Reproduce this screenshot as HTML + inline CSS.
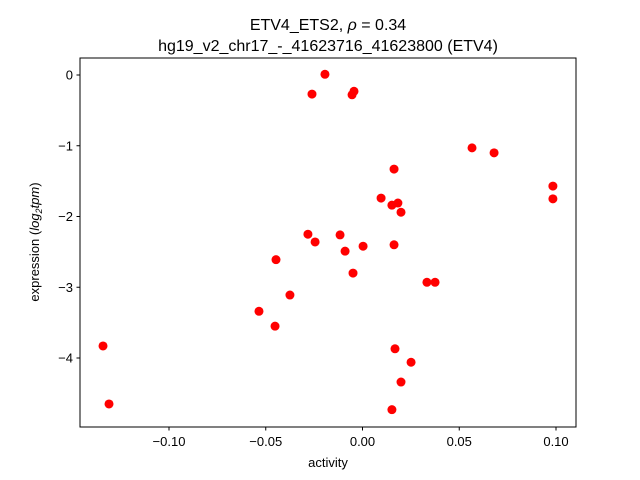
<!DOCTYPE html>
<html><head><meta charset="utf-8"><style>
html,body{margin:0;padding:0;background:#fff;}
svg{display:block;font-family:"Liberation Sans","DejaVu Sans",sans-serif;}
</style></head><body>
<svg id="chart" width="640" height="480">
<rect x="0" y="0" width="640" height="480" fill="#fff"/>
<text x="328" y="30" font-size="16" text-anchor="middle">ETV4_ETS2, <tspan font-style="italic">ρ</tspan> = 0.34</text>
<text x="328" y="51" font-size="16" text-anchor="middle">hg19_v2_chr17_-_41623716_41623800 (ETV4)</text>
<g id="points"></g>
<g id="axes"></g>
<rect x="80" y="58" width="496" height="369" fill="none" stroke="#000" stroke-width="1"/>
<text x="328" y="467" font-size="13" text-anchor="middle">activity</text>
<text transform="translate(39,242) rotate(-90)" font-size="13" text-anchor="middle">expression (<tspan font-style="italic">log</tspan><tspan font-style="italic" font-size="9" dy="3">2</tspan><tspan font-style="italic" dy="-3">tpm</tspan>)</text>
</svg>
<script>
const activity = [-0.1341,-0.131,-0.0194,-0.0261,-0.0054,-0.0044,0.0566,0.068,0.0984,0.0984,0.0163,0.0096,0.0152,0.0183,0.0199,-0.0282,-0.0116,-0.0245,-0.009,0.0003,0.0163,-0.0447,-0.0049,0.0333,0.0375,-0.0375,-0.0535,-0.0452,0.0168,0.0251,0.0199,0.0152];
const expression = [-3.83,-4.65,0.01,-0.27,-0.28,-0.23,-1.03,-1.10,-1.57,-1.75,-1.33,-1.74,-1.84,-1.81,-1.94,-2.25,-2.26,-2.36,-2.49,-2.42,-2.40,-2.61,-2.80,-2.93,-2.93,-3.11,-3.34,-3.55,-3.87,-4.06,-4.34,-4.73];
const xTicks = [-0.10,-0.05,0.00,0.05,0.10];
const xTickLabels = ["\u22120.10","\u22120.05","0.00","0.05","0.10"];
const yTicks = [0,-1,-2,-3,-4];
const yTickLabels = ["0","\u22121","\u22122","\u22123","\u22124"];

const NS = "http://www.w3.org/2000/svg";
function xs(v){ return 362.5 + v*1935; }
function ys(v){ return 75 - v*70.75; }
const pts = document.getElementById('points');
for (let i=0;i<activity.length;i++){
  const c = document.createElementNS(NS,'circle');
  c.setAttribute('cx', xs(activity[i]));
  c.setAttribute('cy', ys(expression[i]));
  c.setAttribute('r', 4.5);
  c.setAttribute('fill', '#ff0000');
  
  
  pts.appendChild(c);
}
const ax = document.getElementById('axes');
xTicks.forEach((t,i)=>{
  const x = xs(t);
  const l = document.createElementNS(NS,'line');
  l.setAttribute('x1',x); l.setAttribute('x2',x); l.setAttribute('y1',427); l.setAttribute('y2',430.5);
  l.setAttribute('stroke','#000');
  
  
  ax.appendChild(l);
  const tx = document.createElementNS(NS,'text');
  tx.setAttribute('x',x); tx.setAttribute('y',446); tx.setAttribute('font-size','13'); tx.setAttribute('text-anchor','middle');
  tx.textContent = xTickLabels[i];
  
  
  ax.appendChild(tx);
});
yTicks.forEach((t,i)=>{
  const y = ys(t);
  const l = document.createElementNS(NS,'line');
  l.setAttribute('x1',76.5); l.setAttribute('x2',80); l.setAttribute('y1',y); l.setAttribute('y2',y);
  l.setAttribute('stroke','#000');
  
  
  ax.appendChild(l);
  const tx = document.createElementNS(NS,'text');
  tx.setAttribute('x',73); tx.setAttribute('y',y+4.5); tx.setAttribute('font-size','13'); tx.setAttribute('text-anchor','end');
  tx.textContent = yTickLabels[i];
  
  
  ax.appendChild(tx);
});
</script>
</body></html>
